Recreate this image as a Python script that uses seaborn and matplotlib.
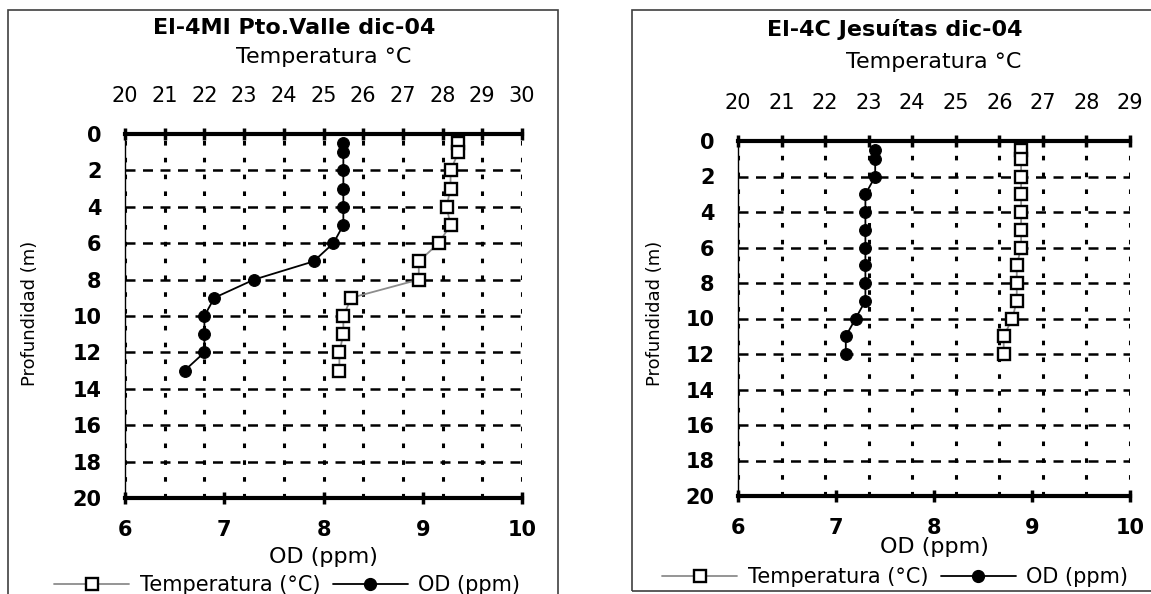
import matplotlib.pyplot as plt
import matplotlib.patches as mpatches
from matplotlib.lines import Line2D
import numpy as np
import pandas as pd
import seaborn as sns

# datos: El-4MI Pto.Valle dic-04
prof_valle = [0.5, 1, 2, 3, 4, 5, 6, 7, 8, 9, 10, 11, 12, 13]
temp_valle = [28.4, 28.4, 28.2, 28.2, 28.1, 28.2, 27.9, 27.4, 27.4, 25.7, 25.5, 25.5, 25.4, 25.4]
od_valle = [8.2, 8.2, 8.2, 8.2, 8.2, 8.2, 8.1, 7.9, 7.3, 6.9, 6.8, 6.8, 6.8, 6.6]

# El-4C Jesuitas dic-04
prof_jes = [0.5, 1, 2, 3, 4, 5, 6, 7, 8, 9, 10, 11, 12]
temp_jes = [26.5, 26.5, 26.5, 26.5, 26.5, 26.5, 26.5, 26.4, 26.4, 26.4, 26.3, 26.1, 26.1]
od_jes = [7.4, 7.4, 7.4, 7.3, 7.3, 7.3, 7.3, 7.3, 7.3, 7.3, 7.2, 7.1, 7.1]

prof_ticks = list(range(0, 21, 2))
od_ticks = [6, 7, 8, 9, 10]

W, H = 1151, 594

sns.set_style("white")
plt.rcParams['font.family'] = ['DejaVu Sans']
plt.rcParams['text.color'] = 'black'
plt.rcParams['axes.labelcolor'] = 'black'
plt.rcParams['xtick.color'] = 'black'
plt.rcParams['ytick.color'] = 'black'

fig = plt.figure(figsize=(W / 100, H / 100), dpi=100)


def px(x):
    return x / W


def py(y):
    return 1 - y / H


def panel(box, prof, temp, od, tmax, title, title_x, title_y, temp_y, od_y, ylab_x, leg_x, leg_y):
    x0, y0, x1, y1 = box
    ax = fig.add_axes([px(x0), py(y1), (x1 - x0) / W, (y1 - y0) / H])
    ax2 = ax.twiny()

    sns.lineplot(x=od, y=prof, ax=ax, estimator=None, sort=False, color='black', lw=1.3,
                 marker='o', markersize=8.5, markerfacecolor='black', markeredgecolor='black', zorder=5)
    sns.lineplot(x=temp, y=prof, ax=ax2, estimator=None, sort=False, color='#8c8c8c', lw=1.3,
                 marker='s', markersize=8.5, markerfacecolor='white', markeredgecolor='black',
                 markeredgewidth=1.7, zorder=5)

    ax.set_xlim(6, 10)
    ax2.set_xlim(20, tmax)
    ax.set_ylim(20, 0)
    ax.set_yticks(prof_ticks)
    ax.set_xticks(od_ticks)
    ax2.set_xticks(list(range(20, tmax + 1)))
    ax.set_xlabel('')
    ax.set_ylabel('')
    ax2.set_xlabel('')

    ax.tick_params(axis='y', direction='out', length=8, width=1, pad=9, labelsize=15)
    ax.tick_params(axis='x', direction='inout', length=9, width=2.5, pad=11, labelsize=15)
    ax2.tick_params(axis='x', direction='inout', length=9, width=2.5, pad=16, labelsize=15)
    plt.setp(ax.get_yticklabels(), fontweight='bold')
    plt.setp(ax.get_xticklabels(), fontweight='bold')

    ax.grid(False)
    ax2.grid(False)
    ax.yaxis.grid(True, linestyle=(0, (4, 3)), color='black', lw=1.8)
    ax2.xaxis.grid(True, linestyle=(0, (1.5, 4)), color='black', lw=2.2)

    for s in ['top', 'bottom']:
        ax.spines[s].set_linewidth(3)
        ax.spines[s].set_color('black')
    ax.spines['left'].set_linewidth(1)
    ax.spines['left'].set_color('black')
    ax.spines['right'].set_visible(False)
    for s in ax2.spines.values():
        s.set_visible(False)

    fig.text(px(title_x), py(title_y), title, ha='center', va='center', fontsize=16, fontweight='bold')
    fig.text(px((x0 + x1) / 2), py(temp_y), 'Temperatura °C', ha='center', va='center', fontsize=16)
    fig.text(px((x0 + x1) / 2), py(od_y), 'OD (ppm)', ha='center', va='center', fontsize=16)
    fig.text(px(ylab_x), py(313), 'Profundidad (m)', ha='center', va='center', fontsize=13, rotation=90)

    handles = [Line2D([], [], color='#8c8c8c', lw=1.3, marker='s', ms=8.5, mfc='white', mec='black', mew=1.7),
               Line2D([], [], color='black', lw=1.3, marker='o', ms=8.5, mfc='black', mec='black')]
    fig.legend(handles, ['Temperatura (°C)', 'OD (ppm)'], loc='center', bbox_to_anchor=(px(leg_x), py(leg_y)),
               ncol=2, frameon=False, fontsize=15, handlelength=3.6, columnspacing=0.6, handletextpad=0.5)


panel((125, 134, 522, 498), prof_valle, temp_valle, od_valle, 30, 'El-4MI Pto.Valle dic-04',
      294, 28, 57, 557, 30, 287, 585)
panel((738, 141, 1130, 496), prof_jes, temp_jes, od_jes, 29, 'El-4C Jesuítas dic-04',
      895, 30, 62, 547, 655, 895, 577)

# marcos de cada grafico
fig.patches.append(mpatches.Rectangle((px(8), py(610)), (558 - 8) / W, (610 - 10) / H,
                                      transform=fig.transFigure, fill=False, ec='#404040', lw=1.2))
fig.patches.append(mpatches.Rectangle((px(632), py(591)), (1170 - 632) / W, (591 - 10) / H,
                                      transform=fig.transFigure, fill=False, ec='#404040', lw=1.2))

plt.savefig('out.png', dpi=100)
